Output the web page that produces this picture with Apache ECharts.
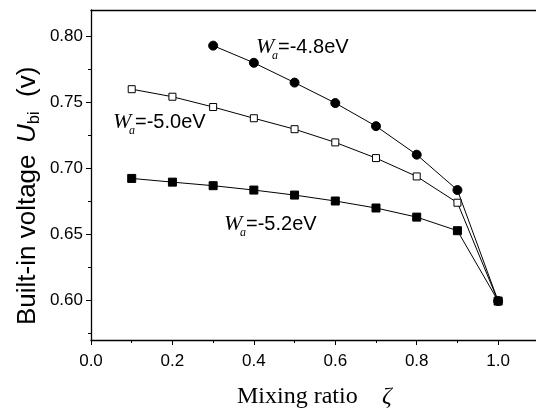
<!DOCTYPE html>
<html>
<head>
<meta charset="utf-8">
<script src="https://cdn.jsdelivr.net/npm/echarts@6/dist/echarts.min.js"></script>
<style>html,body{margin:0;padding:0;background:#fff;}#c{width:536px;height:410px;}</style>
</head>
<body>
<div id="c"></div>
<script>
var xA = [0.3, 0.4, 0.5, 0.6, 0.7, 0.8, 0.9, 1.0];
var yA = [0.793, 0.780, 0.765, 0.7495, 0.732, 0.7104, 0.6836, 0.5995];
var xB = [0.1, 0.2, 0.3, 0.4, 0.5, 0.6, 0.7, 0.8, 0.9, 1.0];
var yB = [0.760, 0.7543, 0.7465, 0.738, 0.7297, 0.7197, 0.7078, 0.6939, 0.674, 0.5995];
var xC = [0.1, 0.2, 0.3, 0.4, 0.5, 0.6, 0.7, 0.8, 0.9, 1.0];
var yC = [0.6924, 0.6896, 0.6869, 0.6836, 0.6798, 0.6753, 0.670, 0.6631, 0.6528, 0.5995];
var xTicks = [0.0, 0.2, 0.4, 0.6, 0.8, 1.0];
var xMinor = [0.1, 0.3, 0.5, 0.7, 0.9];
var yTicks = [0.60, 0.65, 0.70, 0.75, 0.80];
var yMinor = [0.575, 0.625, 0.675, 0.725, 0.775];
var labels = ['=-4.8eV', '=-5.0eV', '=-5.2eV'];

function pairs(xs, ys) { return xs.map(function (x, i) { return [x, ys[i]]; }); }

var chart = echarts.init(document.getElementById('c'), null, {renderer: 'canvas'});
var SANS = 'Liberation Sans, Arial, sans-serif';
var SERIF = 'Liberation Serif, Times New Roman, serif';

function annot(x, y, rest) {
  return {
    type: 'group', x: x, y: y, children: [
      {type: 'text', x: 0, y: 0, style: {text: 'W', font: 'italic 22px ' + SERIF, fill: '#000', verticalAlign: 'middle', align: 'left'}},
      {type: 'text', x: 16, y: 9, style: {text: 'a', font: 'italic 12px ' + SERIF, fill: '#000', verticalAlign: 'middle', align: 'left'}},
      {type: 'text', x: 22, y: 0, style: {text: rest, font: '20px ' + SANS, fill: '#000', verticalAlign: 'middle', align: 'left'}}
    ]
  };
}

var XMAX = 1.093;

chart.setOption({
  animation: false,
  backgroundColor: '#fff',
  grid: {left: 91, right: 0, top: 10, bottom: 70, show: false, containLabel: false},
  xAxis: [
    {type: 'value', min: 0, max: XMAX, splitLine: {show: false},
      axisLine: {show: true, onZero: false, lineStyle: {color: '#000', width: 1.3}},
      axisTick: {show: true, inside: false, length: 5, lineStyle: {color: '#000', width: 1}, customValues: xTicks},
      axisLabel: {show: true, customValues: xTicks, margin: 13, color: '#000', fontSize: 17, fontFamily: SANS, formatter: function (v) { return v.toFixed(1); }}
    },
    {type: 'value', min: 0, max: XMAX, position: 'bottom', splitLine: {show: false},
      axisLine: {show: false},
      axisTick: {show: true, length: 3, lineStyle: {color: '#000', width: 1}, customValues: xMinor},
      axisLabel: {show: false}
    },
    {type: 'value', min: 0, max: XMAX, position: 'top', splitLine: {show: false},
      axisLine: {show: true, onZero: false, lineStyle: {color: '#000', width: 1.3}},
      axisTick: {show: false},
      axisLabel: {show: false}
    }
  ],
  yAxis: [
    {type: 'value', min: 0.57, max: 0.82, splitLine: {show: false},
      axisLine: {show: true, onZero: false, lineStyle: {color: '#000', width: 1.3}},
      axisTick: {show: true, length: 5, lineStyle: {color: '#000', width: 1}, customValues: yTicks},
      axisLabel: {show: true, customValues: yTicks, margin: 8, color: '#000', fontSize: 17, fontFamily: SANS, formatter: function (v) { return v.toFixed(2); }}
    },
    {type: 'value', min: 0.57, max: 0.82, position: 'left', splitLine: {show: false},
      axisLine: {show: false},
      axisTick: {show: true, length: 3, lineStyle: {color: '#000', width: 1}, customValues: yMinor},
      axisLabel: {show: false}
    }
  ],
  series: [
    {type: 'line', data: pairs(xA, yA), symbol: 'circle', symbolSize: 9, showAllSymbol: true,
      lineStyle: {color: '#000', width: 1}, itemStyle: {color: '#000', borderColor: '#000'}},
    {type: 'line', data: pairs(xB, yB), symbol: 'rect', symbolSize: 7, showAllSymbol: true,
      lineStyle: {color: '#000', width: 1}, itemStyle: {color: '#fff', borderColor: '#000', borderWidth: 1}},
    {type: 'line', data: pairs(xC, yC), symbol: 'rect', symbolSize: 8, showAllSymbol: true,
      lineStyle: {color: '#000', width: 1}, itemStyle: {color: '#000', borderColor: '#000'}}
  ],
  graphic: [
    annot(256, 47, labels[0]),
    annot(113, 122, labels[1]),
    annot(224, 224, labels[2]),
    {type: 'group', x: 28, y: 325, rotation: Math.PI / 2, children: [
      {type: 'text', x: 0, y: 0, style: {text: 'Built-in voltage', font: '26px ' + SANS, fill: '#000', verticalAlign: 'middle', align: 'left'}},
      {type: 'text', x: 182, y: 0, style: {text: 'U', font: 'italic 26px ' + SANS, fill: '#000', verticalAlign: 'middle', align: 'left'}},
      {type: 'text', x: 201, y: 7, style: {text: 'bi', font: '16px ' + SANS, fill: '#000', verticalAlign: 'middle', align: 'left'}},
      {type: 'text', x: 228, y: 0, style: {text: '(v)', font: '26px ' + SANS, fill: '#000', verticalAlign: 'middle', align: 'left'}}
    ]},
    {type: 'text', x: 237, y: 397, style: {text: 'Mixing ratio', font: '24px ' + SERIF, fill: '#000', verticalAlign: 'middle', align: 'left'}},
    {type: 'text', x: 382, y: 397, style: {text: 'ζ', font: 'italic 24px ' + SERIF, fill: '#000', verticalAlign: 'middle', align: 'left'}}
  ]
});
</script>
</body>
</html>
